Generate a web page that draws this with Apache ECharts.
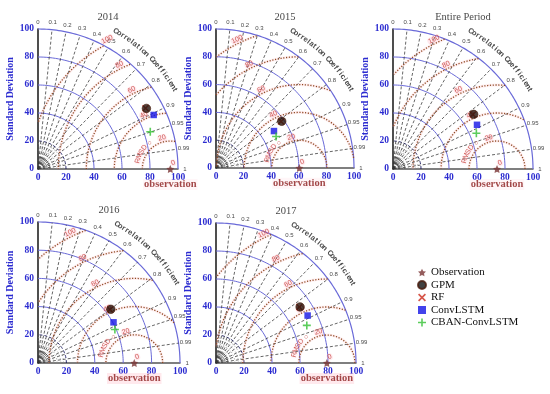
<!DOCTYPE html>
<html><head><meta charset="utf-8">
<script src="https://cdn.jsdelivr.net/npm/echarts@6/dist/echarts.min.js"></script>
<style>html,body{margin:0;padding:0;background:#fff}#c{width:550px;height:394px}</style>
</head><body><div id="c"></div>
<script>
// ---------- data ----------
const panelTitles = ['2014', '2015', 'Entire Period', '2016', '2017'];
const obsStd   = [94.5, 60.4, 74.3, 67.8, 79.2];
const gpmStd   = [88.7, 58.3, 69.6, 63.9, 72.2];
const gpmCorr  = [0.873, 0.817, 0.828, 0.803, 0.832];
const rfStd    = [88.2, 57.8, 69.1, 63.4, 71.7];
const rfCorr   = [0.871, 0.815, 0.826, 0.801, 0.830];
const convStd  = [91.2, 49.7, 67.8, 60.5, 73.7];
const convCorr = [0.906, 0.845, 0.885, 0.879, 0.888];
const cbanStd  = [84.5, 49.1, 64.8, 59.1, 70.2];
const cbanCorr = [0.949, 0.887, 0.919, 0.916, 0.924];
const stdTicks = [0, 20, 40, 60, 80, 100];
const corrTicks = [0, 0.1, 0.2, 0.3, 0.4, 0.5, 0.6, 0.7, 0.8, 0.9, 0.95, 0.99, 1];
const corrTickLabels = ['0', '0.1', '0.2', '0.3', '0.4', '0.5', '0.6', '0.7', '0.8', '0.9', '0.95', '0.99', '1'];
const rmsdLevels = [20, 40, 60, 80, 100];
const legendNames = ['Observation', 'GPM', 'RF', 'ConvLSTM', 'CBAN-ConvLSTM'];

// ---------- layout / style ----------
const layout = [
  {left: 38, top: 29, width: 140, height: 140},
  {left: 216, top: 29, width: 138, height: 139},
  {left: 393, top: 29, width: 140, height: 140},
  {left: 38, top: 222, width: 142, height: 141},
  {left: 216, top: 223, width: 140, height: 140}
];
const SERIF = 'Liberation Serif';
const SANS = 'Liberation Sans';
const BLUE_TXT = '#2b2bd0';
const STAR = 'path://M0,-10 L2.9,-4 L9.5,-3.1 L4.8,1.5 L5.9,8.1 L0,5 L-5.9,8.1 L-4.8,1.5 L-9.5,-3.1 L-2.9,-4 Z';
const PLUS = 'path://M-1,-5 L1,-5 L1,-1 L5,-1 L5,1 L1,1 L1,5 L-1,5 L-1,1 L-5,1 L-5,-1 L-1,-1 Z';
const CROSS = 'path://M-4.2,-3 L-3,-4.2 L0,-1.2 L3,-4.2 L4.2,-3 L1.2,0 L4.2,3 L3,4.2 L0,1.2 L-3,4.2 L-4.2,3 L-1.2,0 Z';
const RAD = Math.PI / 180;

function polarXY(r, c) { return [r * c, r * Math.sqrt(Math.max(0, 1 - c * c))]; }
function arc(cx, R, clipR) {
  const pts = [];
  for (let a = 0; a <= 180.0001; a += 0.5) {
    const x = cx + R * Math.cos(a * RAD), y = R * Math.sin(a * RAD);
    if (x >= -1e-6 && y >= -1e-6 && x * x + y * y <= clipR * clipR + 1e-6) pts.push([x, y]);
  }
  return pts;
}

const grids = [], xAxes = [], yAxes = [], series = [];
layout.forEach((g, i) => {
  grids.push(Object.assign({}, g));
  xAxes.push({
    type: 'value', gridIndex: i, min: 0, max: 100, interval: 20,
    axisLine: {show: true, onZero: false, lineStyle: {color: '#555', width: 1.5}},
    axisTick: {show: false}, splitLine: {show: false},
    axisLabel: {color: BLUE_TXT, fontFamily: SERIF, fontSize: 9.5, fontWeight: 'bold', margin: 4}
  });
  yAxes.push({
    type: 'value', gridIndex: i, min: 0, max: 100, interval: 20,
    name: 'Standard Deviation', nameLocation: 'middle', nameGap: 18,
    nameTextStyle: {color: BLUE_TXT, fontFamily: SERIF, fontSize: 10, fontWeight: 'bold'},
    axisLine: {show: true, onZero: false, lineStyle: {color: '#222', width: 1.6}},
    axisTick: {show: false}, splitLine: {show: false},
    axisLabel: {color: BLUE_TXT, fontFamily: SERIF, fontSize: 9.5, fontWeight: 'bold', margin: 4}
  });
  const base = {xAxisIndex: i, yAxisIndex: i, silent: true, animation: false};
  const line = (data, ls, z) => Object.assign({type: 'line', data, showSymbol: false, symbol: 'none',
    lineStyle: ls, z: z || 2, clip: false}, base);

  // small inner std arcs near origin
  [2.5, 4.5, 6.5, 8.5].forEach(r => series.push(line(arc(0, r, 101), {color: '#444', width: 0.7}, 2)));
  [11, 13.5, 16, 18].forEach(r => series.push(line(arc(0, r, 101), {color: '#888', width: 0.6, type: [1.5, 2]}, 2)));
  series.push(line(arc(0, 20, 101), {color: '#1c1c60', width: 0.9, type: [3, 2]}, 2));
  // std circles
  stdTicks.filter(t => t >= 40).forEach(r => series.push(line(arc(0, r, 101), {color: '#6a6ad8', width: r === 100 ? 1.2 : 1}, 3)));
  // correlation rays
  corrTicks.filter(c => c > 0 && c < 1).forEach(c => {
    series.push(line([[0, 0], polarXY(100, c)], {color: '#333', width: 0.75, type: [3, 2]}, 3));
  });
  // RMSD arcs
  rmsdLevels.forEach(R => {
    const pts = arc(obsStd[i], R, 100);
    if (pts.length > 1) {
      series.push(line(pts, {color: 'rgba(255,170,185,0.18)', width: 3}, 2));
      series.push(line(pts, {color: '#8e4a22', width: 1.3, type: [1.2, 1.6]}, 4));
    }
  });

  // text labels via scatter
  const labels = [];
  const lab = (x, y, text, opts) => labels.push({value: [x, y], label: Object.assign({show: true, formatter: text, position: 'inside', align: 'center', verticalAlign: 'middle'}, opts)});
  // correlation tick labels
  corrTicks.forEach((c, k) => {
    const p = polarXY(105, c);
    lab(p[0], p[1], corrTickLabels[k], {color: '#111', fontFamily: SANS, fontSize: 6});
  });
  // curved "Correlation Coefficient"
  const chars = 'Correlation Coefficient'.split('');
  chars.forEach((ch, k) => {
    const th = 60.5 - k * (30.5 / (chars.length - 1));
    const x = 113 * Math.cos(th * RAD), y = 113 * Math.sin(th * RAD);
    if (ch !== ' ') lab(x, y, ch, {color: '#111', fontFamily: SANS, fontSize: 7.5, fontWeight: 'bold', rotate: th - 90});
  });
  // RMSD labels
  const o = obsStd[i];
  const rmsdStyle = {color: '#c0302a', fontFamily: SANS, fontSize: 7, backgroundColor: 'rgba(255,170,185,0.3)', borderRadius: 4, padding: [0, 1]};
  rmsdLevels.forEach(R => {
    const phi = R === 20 ? 105 : 116;
    const rr = R + 3;
    lab(o + rr * Math.cos(phi * RAD), rr * Math.sin(phi * RAD), String(R), Object.assign({rotate: phi - 90}, rmsdStyle));
  });
  ['R', 'M', 'S', 'D'].forEach((ch, k) => {
    const phi = 166 - k * 8.5;
    lab(o + 24 * Math.cos(phi * RAD), 24 * Math.sin(phi * RAD), ch, Object.assign({rotate: phi - 90}, rmsdStyle, {fontSize: 7, backgroundColor: 'rgba(255,170,185,0.15)'}));
  });
  lab(o + 23.5 * Math.cos(129 * RAD), 23.5 * Math.sin(129 * RAD), '○', Object.assign({}, rmsdStyle, {backgroundColor: 'transparent', fontSize: 7}));
  lab(o + 2, 4.5, '0', Object.assign({rotate: 20}, rmsdStyle));
  // title and observation name
  lab(50, 108.5, panelTitles[i], {color: '#111', fontFamily: SERIF, fontSize: 10.5});
  lab(o, -11, 'observation', {color: '#8b1c1c', fontFamily: SERIF, fontSize: 10.5, fontWeight: 'bold',
    backgroundColor: i >= 3 ? 'rgba(255,205,215,0.55)' : 'rgba(255,220,228,0.3)', padding: [0, 1]});
  series.push(Object.assign({type: 'scatter', data: labels, symbol: 'circle', symbolSize: 0, clip: false, z: 6}, base));

  // markers
  const mk = (name, std, corr, symbol, size, color, z, extra) => series.push(Object.assign({
    type: 'scatter', name, symbol, symbolSize: size, clip: false, z,
    itemStyle: Object.assign({color}, extra || {}), data: [polarXY(std, corr)]
  }, base));
  mk('Observation', obsStd[i], 1, STAR, 8, '#7a3434', 8);
  mk('RF', rfStd[i], rfCorr[i], CROSS, 7, '#cc2a1a', 8);
  mk('GPM', gpmStd[i], gpmCorr[i], 'circle', 8.5, '#24120a', 9, {borderColor: '#4a1c0c', borderWidth: 0.8});
  mk('ConvLSTM', convStd[i], convCorr[i], 'rect', 6.5, '#1414e6', 9);
  mk('CBAN-ConvLSTM', cbanStd[i], cbanCorr[i], PLUS, 8, '#33c033', 9);
});

const chart = echarts.init(document.getElementById('c'));
chart.setOption({
  animation: false,
  backgroundColor: '#fff',
  grid: grids, xAxis: xAxes, yAxis: yAxes, series,
  legend: {
    orient: 'vertical', left: 412, top: 262, itemWidth: 8, itemHeight: 8, itemGap: 1.5,
    selectedMode: false,
    textStyle: {color: '#111', fontFamily: SERIF, fontSize: 11, lineHeight: 11},
    data: [
      {name: 'Observation', icon: STAR, itemStyle: {color: '#7a3434'}},
      {name: 'GPM', icon: 'circle', itemStyle: {color: '#111'}},
      {name: 'RF', icon: CROSS, itemStyle: {color: '#cc2a1a'}},
      {name: 'ConvLSTM', icon: 'rect', itemStyle: {color: '#1414e6'}},
      {name: 'CBAN-ConvLSTM', icon: PLUS, itemStyle: {color: '#33c033'}}
    ]
  }
});
</script></body></html>
